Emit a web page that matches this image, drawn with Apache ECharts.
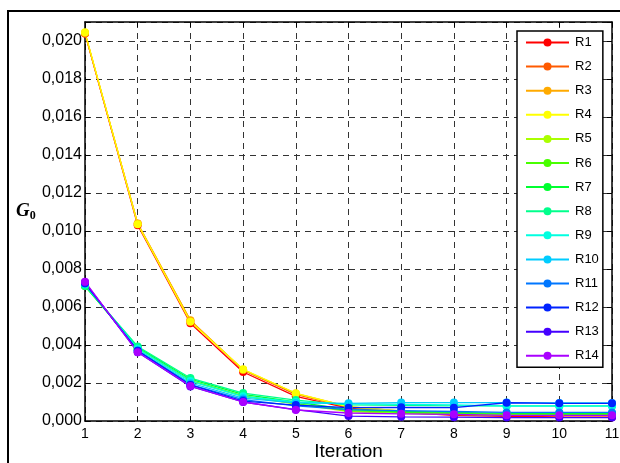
<!DOCTYPE html>
<html>
<head>
<meta charset="utf-8">
<script src="https://cdn.jsdelivr.net/npm/echarts@6/dist/echarts.min.js"></script>
<style>
html,body{margin:0;padding:0;background:#fff;}
#chart{width:620px;height:463px;}
</style>
</head>
<body>
<div id="chart"></div>
<script>
var iterations = [1,2,3,4,5,6,7,8,9,10,11];
var seriesNames = ['R1','R2','R3','R4','R5','R6','R7','R8','R9','R10','R11','R12','R13','R14'];
var seriesColors = ['#ff0000','#ff5a00','#ffaa00','#ffff00','#aaff00','#48ff00','#00ff30','#00ff8c','#00ffe0','#00ccff','#0077ff','#0022ff','#4400ff','#aa00ff'];
var R1  = [0.02040,0.01030,0.00515,0.00258,0.00130,0.00068,0.00045,0.00030,0.00025,0.00021,0.00020];
var R2  = [0.02040,0.01038,0.00528,0.00268,0.00140,0.00072,0.00050,0.00035,0.00030,0.00028,0.00027];
var R3  = [0.02042,0.01040,0.00530,0.00270,0.00145,0.00075,0.00052,0.00038,0.00032,0.00030,0.00030];
var R4  = [0.02046,0.01036,0.00522,0.00272,0.00146,0.00075,0.00053,0.00040,0.00035,0.00033,0.00032];
var R5  = [0.00720,0.00380,0.00210,0.00130,0.00090,0.00050,0.00040,0.00035,0.00030,0.00030,0.00030];
var R6  = [0.00710,0.00382,0.00212,0.00132,0.00092,0.00055,0.00045,0.00040,0.00036,0.00035,0.00035];
var R7  = [0.00710,0.00388,0.00220,0.00140,0.00100,0.00060,0.00050,0.00045,0.00040,0.00040,0.00040];
var R8  = [0.00712,0.00392,0.00226,0.00147,0.00110,0.00085,0.00082,0.00080,0.00080,0.00080,0.00080];
var R9  = [0.00720,0.00380,0.00210,0.00130,0.00100,0.00090,0.00088,0.00085,0.00078,0.00078,0.00078];
var R10 = [0.00722,0.00372,0.00200,0.00120,0.00095,0.00093,0.00097,0.00097,0.00097,0.00095,0.00095];
var R11 = [0.00725,0.00370,0.00192,0.00112,0.00080,0.00060,0.00055,0.00050,0.00045,0.00045,0.00045];
var R12 = [0.00725,0.00370,0.00190,0.00105,0.00084,0.00070,0.00072,0.00070,0.00096,0.00093,0.00093];
var R13 = [0.00730,0.00362,0.00182,0.00100,0.00060,0.00026,0.00022,0.00020,0.00018,0.00018,0.00018];
var R14 = [0.00733,0.00362,0.00184,0.00100,0.00058,0.00042,0.00038,0.00035,0.00030,0.00030,0.00030];
var allValues = [R1,R2,R3,R4,R5,R6,R7,R8,R9,R10,R11,R12,R13,R14];
var yTicks = [0,0.002,0.004,0.006,0.008,0.010,0.012,0.014,0.016,0.018,0.020];

var FONT = 'Liberation Sans, Arial, sans-serif';
var chart = echarts.init(document.getElementById('chart'), null, {renderer:'canvas'});

function yFmt(v){
  for (var i=0;i<yTicks.length;i++){
    if (Math.abs(v - yTicks[i]) < 1e-9) return yTicks[i].toFixed(3).replace('.', ',');
  }
  return '';
}

var series = seriesNames.map(function(n, i){
  return {
    name: n,
    type: 'line',
    xAxisIndex: 0, yAxisIndex: 0,
    data: iterations.map(function(x, j){ return [x, allValues[i][j]]; }),
    symbol: 'circle',
    symbolSize: 8,
    showSymbol: true,
    lineStyle: {width: 1.3, color: seriesColors[i]},
    itemStyle: {color: seriesColors[i]},
    animation: false
  };
});

var gridLine = {show:true, lineStyle:{type:[6,5], color:'#333', width:1}};

chart.setOption({
  animation: false,
  backgroundColor: '#fff',
  grid: {left: 85, right: 8, top: 22, bottom: 42, containLabel: false, outerBoundsMode: 'none'},
  xAxis: [{
    type: 'value', min: 1, max: 11, interval: 1,
    position: 'bottom',
    name: 'Iteration', nameLocation: 'middle', nameGap: 21, nameMoveOverlap: false,
    nameTextStyle: {fontFamily: FONT, fontSize: 19, color: '#000'},
    axisLine: {show:true, onZero:false, lineStyle:{color:'#000', width:1.5}},
    axisTick: {show:true, inside:true, length:5, lineStyle:{color:'#000'}},
    axisLabel: {fontFamily: FONT, fontSize: 14, color:'#000', margin: 6},
    splitLine: gridLine
  },{
    type: 'value', min: 1, max: 11, interval: 1,
    position: 'top',
    axisLine: {show:true, onZero:false, lineStyle:{color:'#000', width:1.5}},
    axisTick: {show:true, inside:true, length:5, lineStyle:{color:'#000'}},
    axisLabel: {show:false},
    splitLine: {show:false}
  }],
  yAxis: [{
    type: 'value', min: 0, max: 0.021, interval: 0.002,
    position: 'left',
    axisLine: {show:true, onZero:false, lineStyle:{color:'#000', width:1.5}},
    axisTick: {show:true, inside:true, length:5, lineStyle:{color:'#000'}},
    axisLabel: {fontFamily: FONT, fontSize: 16, color:'#000', margin: 3, formatter: yFmt},
    splitLine: gridLine
  },{
    type: 'value', min: 0, max: 0.021, interval: 0.002,
    position: 'right',
    axisLine: {show:true, onZero:false, lineStyle:{color:'#000', width:1.5}},
    axisTick: {show:true, inside:true, length:5, lineStyle:{color:'#000'}},
    axisLabel: {show:false},
    splitLine: {show:false}
  }],
  legend: {
    orient: 'vertical',
    left: 517, top: 31,
    padding: [5, 4, 5, 8],
    itemWidth: 43, itemHeight: 10, itemGap: 11.1,
    backgroundColor: '#fff',
    borderColor: '#000', borderWidth: 1.5,
    textStyle: {fontFamily: FONT, fontSize: 13, color:'#000', padding:[0,0,0,1]},
    data: seriesNames
  },
  graphic: [{
    type: 'rect',
    shape: {x: 8, y: 11, width: 800, height: 800},
    style: {fill: 'none', stroke: '#000', lineWidth: 2},
    silent: true, z: 100
  },{
    type: 'text',
    left: 16, top: 202,
    style: {
      text: '{g|G}{s|0}',
      rich: {
        g: {fontFamily: 'Liberation Serif, Times New Roman, serif', fontStyle:'italic', fontWeight:'bold', fontSize:19, fill:'#000'},
        s: {fontFamily: 'Liberation Serif, Times New Roman, serif', fontWeight:'bold', fontSize:12, fill:'#000', padding:[8,0,0,0]}
      }
    },
    silent: true, z: 100
  }],
  series: series
});
</script>
</body>
</html>
